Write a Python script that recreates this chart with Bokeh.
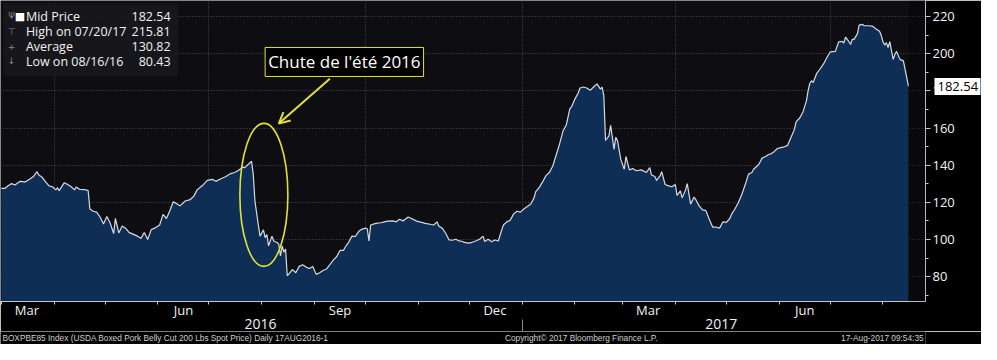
import pandas as pd
from bokeh.plotting import figure
from bokeh.layouts import column
from bokeh.core.properties import value
from bokeh.models import (ColumnDataSource, FixedTicker, DatetimeAxis, DatetimeTickFormatter,
                          LinearAxis, PrintfTickFormatter, Label, BoxAnnotation, Arrow, OpenHead,
                          Range1d)
from bokeh.embed import file_html
from bokeh.resources import INLINE

# ---------------- data ----------------
dates = [
    "2016-03-01", "2016-03-03", "2016-03-05", "2016-03-07", "2016-03-09", "2016-03-12", "2016-03-15",
    "2016-03-18", "2016-03-20", "2016-03-22", "2016-03-23", "2016-03-25", "2016-03-27", "2016-03-29",
    "2016-03-31", "2016-04-02", "2016-04-03", "2016-04-04", "2016-04-07", "2016-04-09", "2016-04-11",
    "2016-04-13", "2016-04-14", "2016-04-16", "2016-04-19", "2016-04-21", "2016-04-22", "2016-04-24",
    "2016-04-26", "2016-04-28", "2016-04-30", "2016-05-02", "2016-05-04", "2016-05-06", "2016-05-07",
    "2016-05-09", "2016-05-11", "2016-05-13", "2016-05-15", "2016-05-18", "2016-05-20", "2016-05-22",
    "2016-05-24", "2016-05-26", "2016-05-28", "2016-05-30", "2016-06-02", "2016-06-04", "2016-06-06",
    "2016-06-08", "2016-06-10", "2016-06-12", "2016-06-14", "2016-06-17", "2016-06-20", "2016-06-22",
    "2016-06-24", "2016-06-27", "2016-06-30", "2016-07-03", "2016-07-05", "2016-07-08", "2016-07-11",
    "2016-07-13", "2016-07-16", "2016-07-18", "2016-07-21", "2016-07-22", "2016-07-24", "2016-07-26",
    "2016-07-27", "2016-07-28", "2016-07-30", "2016-07-31", "2016-08-02", "2016-08-03", "2016-08-04",
    "2016-08-05", "2016-08-07", "2016-08-08", "2016-08-10", "2016-08-11", "2016-08-12", "2016-08-13",
    "2016-08-14", "2016-08-15", "2016-08-16", "2016-08-19", "2016-08-21", "2016-08-23", "2016-08-25",
    "2016-08-28", "2016-08-29", "2016-08-31", "2016-09-02", "2016-09-04", "2016-09-06", "2016-09-08",
    "2016-09-10", "2016-09-12", "2016-09-14", "2016-09-16", "2016-09-18", "2016-09-19", "2016-09-21",
    "2016-09-23", "2016-09-25", "2016-09-27", "2016-09-29", "2016-10-01", "2016-10-02", "2016-10-03",
    "2016-10-04", "2016-10-07", "2016-10-10", "2016-10-12", "2016-10-14", "2016-10-17", "2016-10-19",
    "2016-10-21", "2016-10-23", "2016-10-26", "2016-10-28", "2016-10-31", "2016-11-03", "2016-11-05",
    "2016-11-08", "2016-11-10", "2016-11-12", "2016-11-13", "2016-11-15", "2016-11-17", "2016-11-19",
    "2016-11-21", "2016-11-23", "2016-11-25", "2016-11-27", "2016-11-28", "2016-12-01", "2016-12-04",
    "2016-12-07", "2016-12-09", "2016-12-10", "2016-12-12", "2016-12-14", "2016-12-16", "2016-12-18",
    "2016-12-20", "2016-12-21", "2016-12-23", "2016-12-25", "2016-12-27", "2016-12-29", "2016-12-31",
    "2017-01-02", "2017-01-04", "2017-01-06", "2017-01-08", "2017-01-09", "2017-01-11", "2017-01-13",
    "2017-01-15", "2017-01-17", "2017-01-19", "2017-01-21", "2017-01-23", "2017-01-25", "2017-01-27",
    "2017-01-29", "2017-01-30", "2017-02-01", "2017-02-03", "2017-02-04", "2017-02-06", "2017-02-08",
    "2017-02-10", "2017-02-12", "2017-02-14", "2017-02-16", "2017-02-17", "2017-02-18", "2017-02-19",
    "2017-02-21", "2017-02-22", "2017-02-24", "2017-02-25", "2017-02-26", "2017-02-28", "2017-03-02",
    "2017-03-03", "2017-03-05", "2017-03-07", "2017-03-09", "2017-03-12", "2017-03-15", "2017-03-17",
    "2017-03-18", "2017-03-20", "2017-03-21", "2017-03-23", "2017-03-24", "2017-03-26", "2017-03-28",
    "2017-03-30", "2017-04-01", "2017-04-02", "2017-04-04", "2017-04-05", "2017-04-07", "2017-04-08",
    "2017-04-10", "2017-04-12", "2017-04-13", "2017-04-15", "2017-04-17", "2017-04-19", "2017-04-21",
    "2017-04-23", "2017-04-25", "2017-04-27", "2017-04-29", "2017-05-01", "2017-05-03", "2017-05-04",
    "2017-05-06", "2017-05-08", "2017-05-10", "2017-05-12", "2017-05-14", "2017-05-16", "2017-05-17",
    "2017-05-20", "2017-05-22", "2017-05-24", "2017-05-26", "2017-05-27", "2017-05-29", "2017-05-31",
    "2017-06-02", "2017-06-04", "2017-06-06", "2017-06-08", "2017-06-10", "2017-06-11", "2017-06-13",
    "2017-06-15", "2017-06-17", "2017-06-18", "2017-06-19", "2017-06-20", "2017-06-21", "2017-06-23",
    "2017-06-25", "2017-06-27", "2017-06-29", "2017-07-01", "2017-07-04", "2017-07-06", "2017-07-08",
    "2017-07-09", "2017-07-10", "2017-07-12", "2017-07-13", "2017-07-14", "2017-07-15", "2017-07-17",
    "2017-07-18", "2017-07-20", "2017-07-21", "2017-07-24", "2017-07-26", "2017-07-28", "2017-07-30",
    "2017-07-31", "2017-08-01", "2017-08-02", "2017-08-03", "2017-08-04", "2017-08-05", "2017-08-07",
    "2017-08-08", "2017-08-09", "2017-08-11", "2017-08-12", "2017-08-13", "2017-08-16",
]
prices = [
    127.5, 127.5, 128.9, 130.1, 129.3, 131.3, 131.0,
    132.7, 134.1, 136.5, 134.7, 133.5, 131.0, 128.9,
    128.4, 126.7, 127.9, 126.3, 130.6, 129.6, 128.4,
    126.7, 128.2, 127.0, 126.9, 126.3, 116.4, 115.2,
    114.7, 112.1, 108.3, 112.4, 108.7, 103.2, 111.3,
    103.5, 107.3, 106.1, 103.8, 102.6, 101.8, 100.6,
    103.8, 100.0, 105.2, 106.1, 107.8, 113.5, 111.3,
    115.5, 120.3, 119.3, 118.1, 120.7, 121.5, 123.2,
    126.7, 128.9, 131.8, 132.4, 131.3, 132.7, 133.9,
    135.2, 136.1, 137.0, 139.0, 138.7, 140.4, 142.1,
    135.2, 120.7, 107.8, 101.8, 105.2, 101.0, 102.6,
    96.6, 101.8, 99.2, 98.4, 97.5, 91.2, 96.6,
    93.2, 94.9, 80.43, 83.8, 82.1, 85.5, 86.4,
    84.7, 84.4, 85.5, 81.2, 82.1, 83.3, 84.1,
    86.4, 88.9, 90.7, 94.1, 94.1, 95.8, 98.4,
    101.8, 101.6, 104.4, 105.6, 106.1, 105.8, 99.2,
    107.8, 108.7, 109.0, 109.5, 109.9, 110.0, 109.5,
    110.9, 110.0, 112.1, 111.3, 109.9, 109.2, 108.7,
    108.2, 107.8, 109.5, 107.3, 106.1, 103.5, 99.8,
    99.6, 100.1, 99.2, 98.9, 98.4, 98.0, 98.9,
    100.1, 101.8, 98.9, 100.1, 98.8, 99.7, 99.2,
    105.2, 107.8, 109.5, 110.4, 113.8, 115.2, 114.7,
    116.4, 117.7, 119.0, 122.4, 125.8, 127.9, 131.0,
    134.4, 136.1, 139.6, 145.5, 151.5, 158.4, 161.8,
    170.4, 171.3, 175.6, 179.0, 181.6, 182.1, 181.6,
    180.4, 182.1, 183.8, 181.0, 182.1, 177.3, 153.3,
    155.8, 161.5, 148.5, 155.0, 153.3, 143.0, 137.8,
    144.7, 137.5, 138.2, 137.0, 137.5, 136.1, 138.7,
    134.7, 133.9, 131.8, 134.2, 136.5, 129.6, 128.9,
    128.4, 129.6, 123.8, 126.2, 122.4, 126.7, 130.1,
    119.0, 122.9, 121.5, 118.1, 115.9, 115.5, 110.7,
    106.6, 106.6, 106.1, 109.5, 109.2, 111.3, 113.5,
    116.4, 119.8, 124.1, 129.3, 135.2, 136.1, 137.8,
    140.4, 143.8, 144.7, 145.9, 146.0, 147.3, 149.0,
    149.5, 149.9, 150.7, 155.0, 159.3, 163.5, 165.3,
    168.7, 174.5, 180.0, 184.0, 185.5, 184.5, 189.3,
    191.8, 194.4, 197.9, 201.0, 201.3, 206.5, 206.7,
    205.8, 209.0, 206.5, 205.1, 207.8, 207.8, 210.7,
    215.4, 215.81, 215.1, 215.1, 214.8, 213.3, 212.1,
    209.9, 206.5, 204.7, 206.0, 203.4, 206.5, 197.0,
    199.6, 201.3, 197.0, 196.6, 196.2, 182.54,
]

y_ticks = [80, 100, 120, 140, 160, 180, 200, 220]
y_minor_ticks = [70, 80, 90, 100, 110, 120, 130, 140, 150, 160, 170, 180, 190, 200, 210, 220, 230]
month_label_dates = ["2016-03-16", "2016-06-16", "2016-09-16", "2016-12-16", "2017-03-16", "2017-06-16"]
month_start_dates = ["2016-03-01", "2016-04-01", "2016-05-01", "2016-06-01", "2016-07-01", "2016-08-01",
                     "2016-09-01", "2016-10-01", "2016-11-01", "2016-12-01", "2017-01-01", "2017-02-01",
                     "2017-03-01", "2017-04-01", "2017-05-01", "2017-06-01", "2017-07-01", "2017-08-01"]
quarter_dates = ["2016-04-01", "2016-07-01", "2016-10-01", "2017-01-01", "2017-04-01", "2017-07-01"]
year_label_dates = ["2016-07-31 07:00", "2017-04-28"]
year_separator = ["2017-01-01"]

legend_names = ["Mid Price", "High on 07/20/17", "Average", "Low on 08/16/16"]
legend_values = ["182.54", "215.81", "130.82", "80.43"]
legend_icons = ["", "\u22a4", "+", "\u2193"]

last_price = [182.54]
annotation_text = "Chute de l'\u00e9t\u00e9 2016"
footer_texts = ["BOXPBE85 Index (USDA Boxed Pork Belly Cut 200 Lbs Spot Price)  Daily 17AUG2016-1",
                "Copyright\u00a9 2017 Bloomberg Finance L.P.",
                "17-Aug-2017 09:54:35"]


def ms(s):
    return pd.Timestamp(s).value / 1e6


FONT = "Open Sans"
TXT = "#f2f2f2"
YEL = "#e2e236"
AX = "#c8c8c8"

source = ColumnDataSource(data=dict(date=pd.to_datetime(dates), price=prices))

Y0, Y1 = 66.6, 228.7
X0, X1 = ms("2016-02-29 12:00"), ms("2017-08-26")

W = 981
p = figure(width=W, height=331, x_axis_type="datetime", y_axis_location="right",
           x_range=Range1d(X0, X1), y_range=Range1d(Y0, Y1),
           output_backend="svg", toolbar_location=None,
           min_border_left=0, min_border_top=0, min_border_right=52, min_border_bottom=30,
           background_fill_color="#0e0e12", border_fill_color="black", outline_line_color=None)

# area + line
p.varea(x="date", y1=0, y2="price", source=source, fill_color="#0f2e55")
p.line(x="date", y="price", source=source, line_color="#d6dbe2", line_width=1.2)

# darker band after last observation
p.add_layout(BoxAnnotation(left=ms(dates[-1]), fill_color="black", fill_alpha=0.3, line_color=None))

# grids
p.xgrid.ticker = FixedTicker(ticks=[ms(d) for d in quarter_dates])
for g in (p.xgrid, p.ygrid):
    g.grid_line_color = "#4c4c55"
    g.grid_line_dash = "1 2"
    g.grid_line_width = 1

# right y axis
ya = p.yaxis[0]
ya.ticker = FixedTicker(ticks=y_ticks, minor_ticks=y_minor_ticks)
ya.axis_line_color = AX
ya.major_tick_line_color = AX
ya.minor_tick_line_color = AX
ya.major_tick_out = 5
ya.major_tick_in = 0
ya.minor_tick_out = 3
ya.minor_tick_in = 0
ya.major_label_standoff = 2
ya.major_label_text_color = TXT
ya.major_label_text_font = FONT
ya.major_label_text_font_size = "13px"

# last-price tag: a second right axis whose single tick is drawn as a wide white bar
tag = LinearAxis(ticker=FixedTicker(ticks=last_price), formatter=PrintfTickFormatter(format="%.2f"))
tag.axis_line_color = None
tag.major_tick_line_color = "white"
tag.major_tick_line_width = 17
tag.major_tick_in = 23
tag.major_tick_out = 23
tag.minor_tick_line_color = None
tag.major_label_standoff = -43
tag.major_label_text_color = "black"
tag.major_label_text_font = FONT
tag.major_label_text_font_size = "13px"
p.add_layout(tag, "right")

# bottom month axis
fmt_b = DatetimeTickFormatter(microseconds="%b", milliseconds="%b", seconds="%b", minsec="%b",
                              minutes="%b", hourmin="%b", hours="%b", days="%b", months="%b", years="%b")
xa = p.xaxis[0]
xa.ticker = FixedTicker(ticks=[ms(d) for d in month_label_dates],
                        minor_ticks=[ms(d) for d in month_start_dates])
xa.formatter = fmt_b
xa.axis_line_color = AX
xa.major_tick_line_color = None
xa.major_tick_out = 0
xa.major_tick_in = 0
xa.minor_tick_line_color = AX
xa.minor_tick_out = 3
xa.minor_tick_in = 0
xa.major_label_standoff = -4
xa.major_label_text_color = TXT
xa.major_label_text_font = FONT
xa.major_label_text_font_size = "13px"

# year axis
fmt_y = DatetimeTickFormatter(microseconds="%Y", milliseconds="%Y", seconds="%Y", minsec="%Y",
                              minutes="%Y", hourmin="%Y", hours="%Y", days="%Y", months="%Y", years="%Y")
yr = DatetimeAxis(ticker=FixedTicker(ticks=[ms(d) for d in year_label_dates],
                                     minor_ticks=[ms(d) for d in year_separator]),
                  formatter=fmt_y)
yr.axis_line_color = None
yr.major_tick_line_color = None
yr.major_tick_out = 0
yr.major_tick_in = 0
yr.minor_tick_line_color = "#8a8a8a"
yr.minor_tick_in = 2
yr.minor_tick_out = 14
yr.major_label_standoff = -17
yr.major_label_text_color = TXT
yr.major_label_text_font = FONT
yr.major_label_text_font_size = "14px"
p.add_layout(yr, "below")

# legend box (top left)
p.add_layout(BoxAnnotation(left=ms("2016-03-02"), right=ms("2016-06-13"), top=227.2, bottom=188.0,
                           fill_color="#17171c", fill_alpha=0.95, line_color=None, border_radius=3))
row_y = [220.0, 211.8, 204.0, 196.0]
for name, val, icon, yy in zip(legend_names, legend_values, legend_icons, row_y):
    p.add_layout(Label(x=ms("2016-03-15 10:00"), y=yy, text=name, text_color=TXT, text_font=FONT,
                       text_font_size="12.5px", text_baseline="middle"))
    p.add_layout(Label(x=ms("2016-06-08 10:00"), y=yy, text=val, text_color=TXT, text_font=FONT,
                       text_font_size="12.5px", text_baseline="middle", text_align="right"))
    if icon:
        p.add_layout(Label(x=ms("2016-03-07"), y=yy, text=icon, text_color="#8a8a8a",
                           text_font="DejaVu Sans", text_font_size="9px", text_baseline="middle",
                           text_align="center"))
p.add_layout(Label(x=ms("2016-03-11 22:00"), y=row_y[0], text="\u25a0", text_color="white",
                   text_font="DejaVu Sans", text_font_size="11px", text_baseline="middle",
                   text_align="center"))
p.add_layout(Label(x=ms("2016-03-07"), y=row_y[0], text="\u03a8", text_color="#8a8a8a",
                   text_font="DejaVu Sans", text_font_size="8px", text_baseline="middle",
                   text_align="center"))

# annotation: text box, arrow, ellipse
p.add_layout(Label(x=ms("2016-08-03"), y=195.6, text=annotation_text, text_color="white",
                   text_font=FONT, text_font_size="17px", text_baseline="middle",
                   background_fill_color="black", border_line_color=YEL, border_line_width=1,
                   padding=3))
p.add_layout(Arrow(x_start=ms("2016-09-10"), y_start=186.5, x_end=ms("2016-08-11"), y_end=162.4,
                   line_color=YEL, line_width=2,
                   end=OpenHead(line_color=YEL, line_width=2, size=11)))
p.ellipse(x=[ms("2016-08-02 06:00")], y=[124.0], width=48, height=143,
          width_units="screen", height_units="screen",
          fill_color=None, line_color=YEL, line_width=1.6)

# footer strip
foot = figure(width=W, height=13, x_range=Range1d(0, W), y_range=Range1d(0, 1),
              output_backend="svg", toolbar_location=None, x_axis_location=None, y_axis_location=None,
              min_border=0, background_fill_color="black", border_fill_color="black",
              outline_line_color=None)
foot.grid.visible = False
foot_x = [2, 535, W - 2]
foot_align = ["left", "left", "right"]
for fx, ft, fa in zip(foot_x, footer_texts, foot_align):
    foot.text(x=[fx], y=[0.5], text=[ft], text_align=fa, text_baseline="middle",
              text_font=value("Liberation Sans"), text_font_size="8.3px", text_color="#cfcfcf")

layout = column(p, foot, spacing=0)
open("out.html", "w").write(file_html(layout, INLINE))
